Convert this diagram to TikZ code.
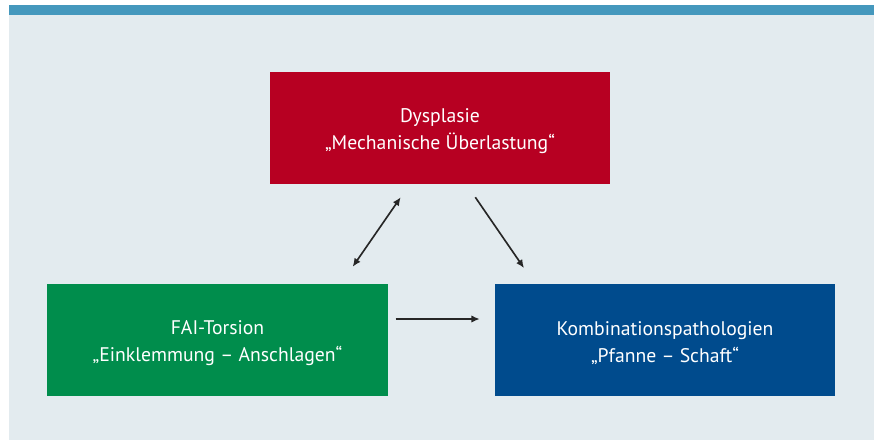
\documentclass[tikz,border=0pt]{standalone}
\usepackage{fontspec}
\setmainfont{PT Sans}
\usetikzlibrary{arrows.meta}
\definecolor{bar}{RGB}{69,152,189}
\definecolor{panel}{RGB}{227,235,239}
\definecolor{dysred}{RGB}{183,0,34}
\definecolor{faigreen}{RGB}{0,141,76}
\definecolor{kombiblue}{RGB}{0,75,141}
\tikzset{
  box/.style={minimum width=10.2cm,minimum height=3.36cm,inner sep=0pt},
  boxtext/.style={text=white,align=center,font=\fontsize{16.8}{23}\selectfont,inner sep=0pt},
  pfeil/.style={line width=1.4pt,color=black!85,-{Latex[length=2.5mm,width=2.2mm]}}
}
\begin{document}
\begin{tikzpicture}[x=0.03cm,y=-0.03cm]
                \useasboundingbox (0,0) rectangle (874,441);
                \fill [panel] (9,5) rectangle (874,440);
                \fill [bar] (9,5) rectangle (874,15);
                \node [box,fill=dysred] (dys) at (440,128) {};
                \node [box,fill=faigreen] (fai) at (217.5,340) {};
                \node [box,fill=kombiblue] (kombi) at (665,340) {};
                \node [boxtext] (dystext) at ([yshift=-3]dys.center) {Dysplasie\\„Mechanische Überlastung“};
                \node [boxtext] (faitext) at ([yshift=-3]fai.center) {FAI-Torsion\\„Einklemmung – Anschlagen“};
                \node [boxtext] (kombitext) at ([yshift=-3]kombi.center) {Kombinationspathologien\\„Pfanne – Schaft“};
                \draw [pfeil,{Latex[length=2.5mm,width=2.2mm]}-{Latex[length=2.5mm,width=2.2mm]}] ([shift={(135.2,-17)}]fai.north) -- ([shift={(-39.3,13)}]dys.south);
                \draw [pfeil] ([shift={(35.3,13)}]dys.south) -- ([shift={(-141,-15.7)}]kombi.north);
                \draw [pfeil] ([shift={(8,-21)}]fai.east) -- ([shift={(-15,-21)}]kombi.west);
            \end{tikzpicture}
\end{document}
